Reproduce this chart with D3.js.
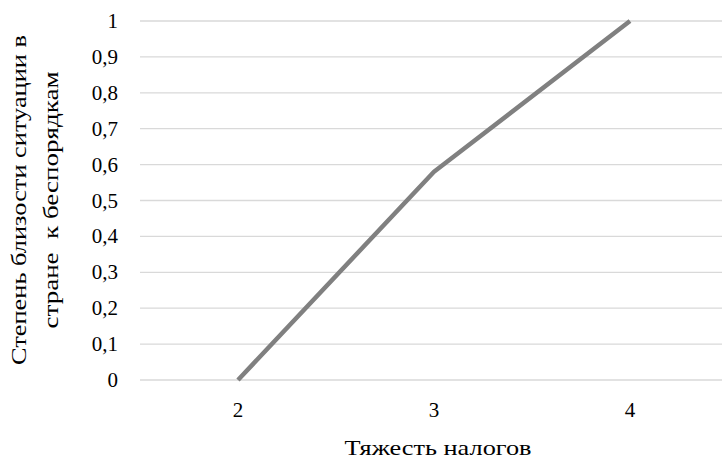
<!DOCTYPE html>
<html><head><meta charset="utf-8">
<script src="https://cdn.jsdelivr.net/npm/d3@7"></script>
<style>body{margin:0;background:#fff}svg{display:block}</style>
</head><body><svg id="c" width="722" height="459"></svg>
<script>
const categories = ["2", "3", "4"];
const values = [0, 0.58, 1];
const yTicks = [0, 0.1, 0.2, 0.3, 0.4, 0.5, 0.6, 0.7, 0.8, 0.9, 1];
const xTitle = "Тяжесть налогов";
const yTitle = ["Степень близости ситуации в", "стране  к беспорядкам"];

const FONT = "Liberation Serif";
const svg = d3.select("#c");
const x = d3.scalePoint().domain(categories).range([140, 728]).padding(0.5);
const y = d3.scaleLinear().domain([0, 1]).range([380, 21]);

svg.append("g").selectAll("line").data(yTicks).join("line")
  .attr("x1", 140).attr("x2", 722)
  .attr("y1", d => y(d)).attr("y2", d => y(d))
  .attr("stroke", "#d9d9d9").attr("stroke-width", 1.3);

svg.append("g").selectAll("text").data(yTicks).join("text")
  .attr("x", 118).attr("y", d => y(d) + 7)
  .attr("text-anchor", "end").attr("font-family", FONT).attr("font-size", 21)
  .text(d => d3.format("")(d).replace(".", ","));

svg.append("g").selectAll("text").data(categories).join("text")
  .attr("x", d => x(d)).attr("y", 417)
  .attr("text-anchor", "middle").attr("font-family", FONT).attr("font-size", 21)
  .text(d => d);

const line = d3.line().x((d, i) => x(categories[i])).y(d => y(d));
svg.append("path").datum(values).attr("d", line)
  .attr("fill", "none").attr("stroke", "#808080").attr("stroke-width", 4.5)
  .attr("stroke-linejoin", "round");

svg.append("text").attr("x", 438).attr("y", 455).attr("text-anchor", "middle")
  .attr("font-family", FONT).attr("font-size", 22)
  .attr("textLength", 187).attr("lengthAdjust", "spacingAndGlyphs").text(xTitle);

const yt = svg.append("g").attr("transform", "translate(0,200) rotate(-90)");
yt.append("text").attr("x", 0).attr("y", 26).attr("text-anchor", "middle")
  .attr("font-family", FONT).attr("font-size", 22)
  .attr("textLength", 330).attr("lengthAdjust", "spacingAndGlyphs").text(yTitle[0]);
yt.append("text").attr("x", 0).attr("y", 58).attr("text-anchor", "middle")
  .attr("font-family", FONT).attr("font-size", 22)
  .attr("textLength", 257).attr("lengthAdjust", "spacingAndGlyphs").style("white-space", "pre").text(yTitle[1]);
</script></body></html>
